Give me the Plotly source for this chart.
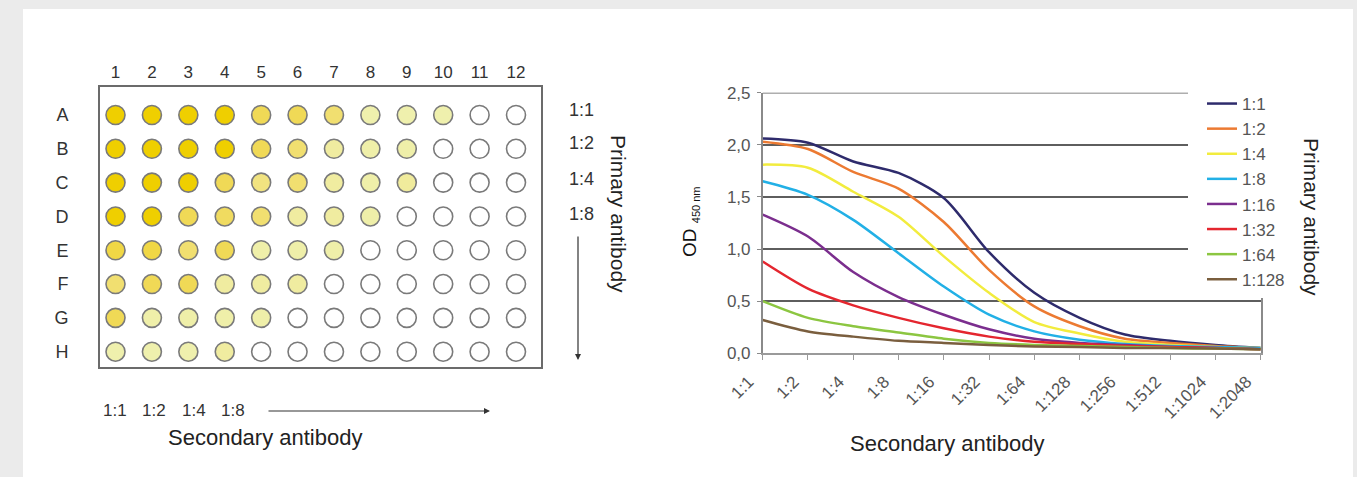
import plotly.graph_objects as go

W, H = 1357, 477
FONT = "Liberation Sans, Arial, sans-serif"

# ---------------- plate (left panel) data ----------------
plate_columns = [1, 2, 3, 4, 5, 6, 7, 8, 9, 10, 11, 12]
plate_rows = ["A", "B", "C", "D", "E", "F", "G", "H"]
# colour intensity of each well (0 = colourless, 4 = strong yellow)
well_A = [4, 4, 4, 4, 3, 3, 2.5, 1.2, 1.2, 1.2, 0, 0]
well_B = [4, 4, 4, 4, 3, 2.5, 1.5, 1.3, 1.3, 0, 0, 0]
well_C = [4, 4, 4, 3, 2.2, 2.5, 1.5, 1.3, 1.6, 0, 0, 0]
well_D = [4, 4, 3, 2.8, 2.5, 1.5, 1.5, 1.3, 0, 0, 0, 0]
well_E = [3.2, 3.2, 2.5, 3, 1.3, 1.3, 1.3, 0, 0, 0, 0, 0]
well_F = [2.5, 3, 3, 1.5, 1.5, 1.5, 0, 0, 0, 0, 0, 0]
well_G = [3, 1.3, 1.3, 1.3, 1.3, 0, 0, 0, 0, 0, 0, 0]
well_H = [1.2, 1.2, 1.2, 1.5, 0, 0, 0, 0, 0, 0, 0, 0]
plate_levels = [well_A, well_B, well_C, well_D, well_E, well_F, well_G, well_H]
plate_primary_labels = ["1:1", "1:2", "1:4", "1:8"]
plate_secondary_labels = ["1:1", "1:2", "1:4", "1:8"]

# ---------------- titration curves (right panel) data ----------------
secondary_dilutions = ["1:1", "1:2", "1:4", "1:8", "1:16", "1:32", "1:64",
                       "1:128", "1:256", "1:512", "1:1024", "1:2048"]
primary_dilutions = ["1:1", "1:2", "1:4", "1:8", "1:16", "1:32", "1:64", "1:128"]
od_1_1 = [2.06, 2.02, 1.84, 1.73, 1.49, 0.97, 0.58, 0.34, 0.18, 0.12, 0.08, 0.05]
od_1_2 = [2.03, 1.96, 1.74, 1.58, 1.26, 0.80, 0.45, 0.26, 0.14, 0.10, 0.07, 0.05]
od_1_4 = [1.81, 1.78, 1.55, 1.31, 0.93, 0.58, 0.30, 0.19, 0.11, 0.08, 0.06, 0.05]
od_1_8 = [1.65, 1.52, 1.28, 0.96, 0.64, 0.37, 0.21, 0.13, 0.09, 0.07, 0.06, 0.05]
od_1_16 = [1.33, 1.12, 0.78, 0.54, 0.37, 0.23, 0.14, 0.10, 0.08, 0.06, 0.05, 0.04]
od_1_32 = [0.88, 0.62, 0.46, 0.34, 0.24, 0.16, 0.11, 0.09, 0.07, 0.06, 0.05, 0.04]
od_1_64 = [0.50, 0.34, 0.26, 0.20, 0.14, 0.10, 0.08, 0.07, 0.06, 0.05, 0.045, 0.04]
od_1_128 = [0.32, 0.21, 0.16, 0.12, 0.10, 0.08, 0.065, 0.06, 0.05, 0.05, 0.045, 0.04]
od_series = [od_1_1, od_1_2, od_1_4, od_1_8, od_1_16, od_1_32, od_1_64, od_1_128]
od_ticks = [0, 0.5, 1.0, 1.5, 2.0, 2.5]
od_tick_text = ["0,0", "0,5", "1,0", "1,5", "2,0", "2,5"]

line_colors = ["#2e2b6c", "#ec7a32", "#f2ec3e", "#22b0e6", "#7b2e8e",
               "#e4262f", "#8cc641", "#7a5e3e"]

fig = go.Figure()

# plate wells
wx, wy, wc = [], [], []
for r, levels in zip(plate_rows, plate_levels):
    for c, v in zip(plate_columns, levels):
        wx.append(c)
        wy.append(r)
        wc.append(v)
fig.add_trace(go.Scatter(
    x=wx, y=wy, mode="markers", xaxis="x", yaxis="y", showlegend=False,
    hoverinfo="skip",
    marker=dict(size=19, color=wc, cmin=0, cmax=4,
                colorscale=[[0, "#ffffff"], [0.25, "#eef3b6"], [0.5, "#f1e58a"],
                            [0.75, "#f0d956"], [1, "#efcf00"]],
                line=dict(color="#7a7a7a", width=1.6)),
))

# titration curves
for name, vals, col in zip(primary_dilutions, od_series, line_colors):
    fig.add_trace(go.Scatter(
        x=secondary_dilutions, y=vals, mode="lines", name=name,
        xaxis="x2", yaxis="y2",
        line=dict(color=col, width=2.5, shape="spline", smoothing=0.8),
    ))

def px(x):
    return x / W

def py(y):
    return 1 - y / H

shapes = [
    # white page panel
    dict(type="rect", xref="paper", yref="paper", x0=px(23), x1=px(1353),
         y0=0, y1=py(9), fillcolor="white", line=dict(width=0), layer="below"),
    # top border of the chart area (2,5 line)
    dict(type="line", xref="x2 domain", yref="y2", x0=0, x1=1, y0=2.5, y1=2.5,
         line=dict(color="#5e5e5e", width=1.6), layer="above"),
    # legend background covering the right end of the grid
    dict(type="rect", xref="paper", yref="paper", x0=px(1188), x1=px(1300),
         y0=py(298), y1=py(86), fillcolor="white", line=dict(width=0), layer="above"),
]

def label(x, y, text, size, color="#333", angle=0):
    return dict(xref="paper", yref="paper", x=px(x), y=py(y), text=text,
                showarrow=False, xanchor="center", yanchor="middle",
                textangle=angle, font=dict(family=FONT, size=size, color=color))

annotations = []
for lab, yy in zip(plate_primary_labels, [110, 143, 178.5, 214]):
    annotations.append(label(581, yy, lab, 18))
for lab, xx in zip(plate_secondary_labels, [115, 154, 194, 233]):
    annotations.append(label(xx, 410, lab, 17))
# arrows
annotations.append(dict(xref="paper", yref="paper", x=px(578), y=py(360),
                        ax=0, ay=-125, text="", showarrow=True, arrowhead=2,
                        arrowsize=1, arrowwidth=1.2, arrowcolor="#333"))
annotations.append(dict(xref="paper", yref="paper", x=px(490), y=py(411),
                        ax=-223, ay=0, text="", showarrow=True, arrowhead=2,
                        arrowsize=1, arrowwidth=1.2, arrowcolor="#333"))
annotations += [
    label(264.5, 437, "Secondary antibody", 22, "#222"),
    label(946.5, 443, "Secondary antibody", 22, "#222"),
    label(619, 214, "Primary antibody", 21, "#222", 90),
    label(1312, 217, "Primary antibody", 21, "#222", 90),
    label(690, 222, 'OD <sub><span style="font-size:11px">450 nm</span></sub>',
          19, "#111", -90),
]

fig.update_layout(
    width=W, height=H, margin=dict(l=0, r=0, t=0, b=0, autoexpand=False),
    paper_bgcolor="#ebebeb", plot_bgcolor="white",
    font=dict(family=FONT, color="#333"),
    shapes=shapes, annotations=annotations,
    legend=dict(x=px(1202), y=py(86), xanchor="left", yanchor="top",
                bgcolor="rgba(0,0,0,0)", borderwidth=0,
                font=dict(family=FONT, size=17, color="#555"),
                tracegroupgap=0, traceorder="normal"),
    xaxis=dict(domain=[px(100), px(540.7)], anchor="y", range=[0.574, 12.678],
               side="top", tickvals=plate_columns, ticks="", showgrid=False,
               zeroline=False, showline=True, mirror=True, linecolor="#6b6b6b",
               linewidth=2, tickfont=dict(size=17, color="#333"),
               ticklabelstandoff=1, fixedrange=True, automargin=False),
    yaxis=dict(domain=[py(367), py(87.3)], anchor="x", type="category",
               categoryarray=plate_rows, range=[7.453, -0.819], ticks="",
               showgrid=False, zeroline=False, showline=True, mirror=True,
               linecolor="#6b6b6b", linewidth=2, automargin=False,
               tickfont=dict(size=18, color="#333"), ticklabelstandoff=26),
    xaxis2=dict(domain=[px(762.7), px(1260.7)], anchor="y2", type="category",
                categoryarray=secondary_dilutions, range=[0, 11], tickangle=-45,
                ticks="outside", ticklen=5, tickcolor="#9a9a9a", tickwidth=1.2,
                showline=True, linecolor="#9a9a9a", linewidth=1.5, showgrid=False,
                zeroline=False, tickfont=dict(size=17, color="#555"),
                ticklabelstandoff=5, ticklabelshift=-14, automargin=False),
    yaxis2=dict(domain=[py(353.3), py(92.7)], anchor="x2", range=[0, 2.5],
                tickvals=od_ticks, ticktext=od_tick_text, showgrid=True,
                gridcolor="#5e5e5e", gridwidth=1.6, showline=True, mirror=True,
                linecolor="#8a8a8a", linewidth=1.5, ticks="outside", ticklen=4,
                tickcolor="#8a8a8a", zeroline=False, automargin=False,
                tickfont=dict(size=17, color="#555"), ticklabelstandoff=3),
)

fig.write_html("out.html",
               config={"displayModeBar": False},
               post_script="document.body.style.margin='0px';"
                           "document.body.style.overflow='hidden';")
